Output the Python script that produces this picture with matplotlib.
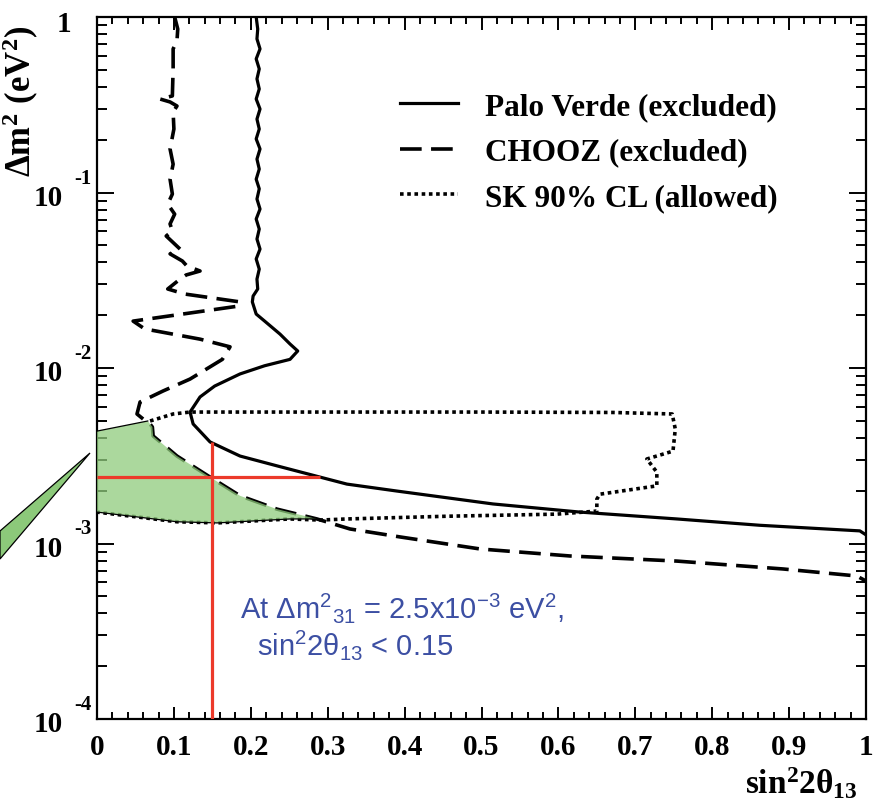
import numpy as np
import matplotlib.pyplot as plt
import matplotlib.transforms as mtransforms
from matplotlib.patches import Polygon
from matplotlib.ticker import MultipleLocator, LogLocator, NullFormatter, FixedLocator

plt.rcParams['mathtext.fontset'] = 'custom'
plt.rcParams['mathtext.rm'] = 'Liberation Sans'
plt.rcParams['mathtext.it'] = 'Liberation Sans:italic'
plt.rcParams['mathtext.bf'] = 'Liberation Serif:bold'

# =========================
# DATA
# =========================
# Palo Verde exclusion contour
pv_x = [0.207, 0.209, 0.208, 0.212, 0.207, 0.211, 0.208, 0.211, 0.207, 0.212,
        0.208, 0.211, 0.207, 0.212, 0.208, 0.211, 0.207, 0.211, 0.208, 0.212,
        0.207, 0.211, 0.208, 0.212, 0.207, 0.211, 0.208, 0.209, 0.203, 0.202,
        0.207, 0.218, 0.238, 0.251, 0.261, 0.251, 0.218, 0.186, 0.153, 0.134,
        0.121, 0.125, 0.147, 0.186, 0.234, 0.290, 0.325, 0.390, 0.515, 0.628,
        0.754, 0.862, 0.992, 1.0]
pv_y = [1.0, 0.854, 0.750, 0.658, 0.577, 0.506, 0.444, 0.389, 0.341, 0.299,
        0.262, 0.230, 0.202, 0.177, 0.155, 0.136, 0.119, 0.105, 0.0918, 0.0805,
        0.0706, 0.0619, 0.0543, 0.0476, 0.0418, 0.0366, 0.0321, 0.0282, 0.0257, 0.0238,
        0.0203, 0.0185, 0.0156, 0.0137, 0.0125, 0.0112, 0.0103, 0.00925, 0.00789, 0.00684,
        0.00561, 0.00480, 0.00379, 0.00315, 0.00277, 0.00239, 0.00218, 0.00199, 0.00168, 0.00151,
        0.00138, 0.00127, 0.00118, 0.00112]

# CHOOZ exclusion contour
ch_x = [0.101, 0.105, 0.104, 0.099, 0.099, 0.098, 0.082, 0.095, 0.104, 0.099,
        0.100, 0.095, 0.099, 0.095, 0.098, 0.092, 0.101, 0.095, 0.098, 0.090,
        0.108, 0.095, 0.111, 0.117, 0.134, 0.116, 0.108, 0.092, 0.114, 0.186,
        0.183, 0.047, 0.062, 0.134, 0.173, 0.163, 0.121, 0.086, 0.056, 0.052,
        0.060, 0.066, 0.072, 0.073, 0.104, 0.147, 0.186, 0.234, 0.286, 0.329,
        0.394, 0.498, 0.615, 0.754, 0.892, 0.988, 1.0]
ch_y = [1.0, 0.854, 0.730, 0.658, 0.506, 0.355, 0.341, 0.328, 0.311, 0.288,
        0.230, 0.177, 0.145, 0.119, 0.0980, 0.0859, 0.0753, 0.0662, 0.0604, 0.0565,
        0.0476, 0.0447, 0.0407, 0.0381, 0.0357, 0.0339, 0.0321, 0.0282, 0.0264, 0.0238,
        0.0225, 0.0185, 0.0167, 0.0146, 0.0132, 0.0112, 0.00865, 0.00740, 0.00640, 0.00547,
        0.00512, 0.00499, 0.00461, 0.00410, 0.00315, 0.00239, 0.00187, 0.00157, 0.00138, 0.00121,
        0.00109, 0.000931, 0.000849, 0.000794, 0.000716, 0.000653, 0.000611]

# SK 90% CL allowed contour
sk_x = [0.069, 0.099, 0.121, 0.355, 0.498, 0.671, 0.748, 0.752, 0.749, 0.715,
        0.728, 0.728, 0.654, 0.650, 0.650, 0.598, 0.455, 0.325, 0.290, 0.251,
        0.156, 0.104, 0.0]
sk_y = [0.00499, 0.00547, 0.00561, 0.00561, 0.00561, 0.00558, 0.00547, 0.00449, 0.00336, 0.00303,
        0.00255, 0.00213, 0.00191, 0.00179, 0.00153, 0.00147, 0.00143, 0.00138, 0.00136, 0.00138,
        0.00131, 0.00133, 0.00151]

# allowed and not excluded (green)
gr_x = [0.0, 0.066, 0.072, 0.073, 0.104, 0.147, 0.186, 0.234, 0.286, 0.251,
        0.156, 0.104, 0.0]
gr_y = [0.00437, 0.00499, 0.00461, 0.00410, 0.00315, 0.00239, 0.00187, 0.00157, 0.00138, 0.00138,
        0.00131, 0.00133, 0.00151]

# red cross-hair
dm2_pick = 2.4e-3
dm2_x = [0.0, 0.29]
s2_pick = 0.15
s2_y = [1e-4, 3.8e-3]

x_ticks = [0, 0.1, 0.2, 0.3, 0.4, 0.5, 0.6, 0.7, 0.8, 0.9, 1.0]
x_tick_labels = ['0', '0.1', '0.2', '0.3', '0.4', '0.5', '0.6', '0.7', '0.8', '0.9', '1']
y_exponents = [-1, -2, -3, -4]

SERIF = 'Liberation Serif'

# =========================
# FIGURE
# =========================
fig = plt.figure(figsize=(8.83, 8.04), dpi=100)
ax = fig.add_axes([97/883, 1 - 720/804, 769/883, 702/804])

pv_line, = ax.plot(pv_x, pv_y, color='black', lw=2.3, solid_joinstyle='round',
                   label='Palo Verde (excluded)')
ch_line, = ax.plot(ch_x, ch_y, color='black', lw=2.6, dashes=(6, 2.6),
                   label='CHOOZ (excluded)')
sk_line, = ax.plot(sk_x, sk_y, color='black', lw=2.6, dashes=(1, 1),
                   label='SK 90% CL (allowed)')

ax.fill(gr_x, gr_y, facecolor='#8fcc7c', alpha=0.75, edgecolor='none', zorder=3)
ax.plot(gr_x[:2], gr_y[:2], color='black', lw=0.9, zorder=3)
ax.plot(gr_x[8:], gr_y[8:], color='black', lw=0.9, zorder=3)

ax.hlines(dm2_pick, dm2_x[0], dm2_x[1], color='#ec3a2a', lw=2.3, zorder=4)
ax.vlines(s2_pick, s2_y[0], s2_y[1], color='#ec3a2a', lw=2.3, zorder=4)

ax.set_xlim(0, 1)
ax.set_yscale('log')
ax.set_ylim(1e-4, 1)

for sp in ax.spines.values():
    sp.set_linewidth(1.6)

ax.xaxis.set_major_locator(FixedLocator(x_ticks))
ax.xaxis.set_minor_locator(MultipleLocator(0.02))
ax.set_xticklabels(x_tick_labels, fontfamily=SERIF, fontweight='bold', fontsize=21)
ax.yaxis.set_major_locator(LogLocator(base=10))
ax.yaxis.set_minor_locator(LogLocator(base=10, subs=np.arange(2, 10)))
ax.yaxis.set_major_formatter(NullFormatter())
ax.yaxis.set_minor_formatter(NullFormatter())

ax.tick_params(which='both', direction='in', top=True, right=True, width=1.4)
ax.tick_params(axis='x', which='major', length=9, pad=10)
ax.tick_params(axis='x', which='minor', length=5)
ax.tick_params(axis='y', which='major', length=12)
ax.tick_params(axis='y', which='minor', length=7)

# y tick labels, ROOT style: "10" with a raised exponent
trans = mtransforms.blended_transform_factory(ax.transAxes, ax.transData)
off_base = mtransforms.ScaledTranslation(0, -5/100, fig.dpi_scale_trans)
off_exp = mtransforms.ScaledTranslation(0, 15/100, fig.dpi_scale_trans)
ax.text(-0.033, 1.0, '1', transform=trans + mtransforms.ScaledTranslation(0, -7/100, fig.dpi_scale_trans),
        ha='right', va='center', fontfamily=SERIF, fontweight='bold', fontsize=21)
for e in y_exponents:
    ax.text(-0.044, 10.0**e, '10', transform=trans + off_base, ha='right', va='center',
            fontfamily=SERIF, fontweight='bold', fontsize=21, clip_on=False)
    ax.text(-0.029, 10.0**e, '-%d' % -e, transform=trans + off_exp, ha='left', va='center',
            fontfamily=SERIF, fontweight='bold', fontsize=15, clip_on=False)

# axis titles
fig.text(31/883, 1 - 177/804, r'$\mathbf{Δm^{2}\ (eV^{2})}$', rotation=90,
         rotation_mode='anchor', ha='left', va='baseline', fontsize=25)
fig.text(745/883, 1 - 794/804, r'$\mathbf{sin^{2}2θ_{13}}$', ha='left', va='baseline',
         fontsize=24)

leg = ax.legend(handles=[pv_line, ch_line, sk_line], loc='upper left',
                bbox_to_anchor=(0.394, 0.893), frameon=False, borderpad=0,
                borderaxespad=0, handlelength=1.86, handletextpad=0.86,
                labelspacing=0.53, prop={'family': SERIF, 'weight': 'bold', 'size': 22.5})

ax.text(240/883, 1 - 618/804, r'At $\mathrm{Δm^{2}{}_{31}}$ = 2.5x10$^{\mathrm{-3}}$ eV$^{\mathrm{2}}$,',
        transform=fig.transFigure, ha='left', va='baseline', color='#3c4fa3',
        fontfamily='Liberation Sans', fontsize=21)
ax.text(257/883, 1 - 655/804, r'$\mathrm{sin^{2}2θ_{13}}$ < 0.15',
        transform=fig.transFigure, ha='left', va='baseline', color='#3c4fa3',
        fontfamily='Liberation Sans', fontsize=21)

# green pointer wedge outside the frame
fig.patches.append(Polygon([(90/883, 1 - 454/804), (0, 1 - 532/804), (0, 1 - 560/804)],
                           closed=True, transform=fig.transFigure, facecolor='#8cc97a',
                           edgecolor='black', lw=0.9, figure=fig))

fig.savefig('out.png', dpi=100)
